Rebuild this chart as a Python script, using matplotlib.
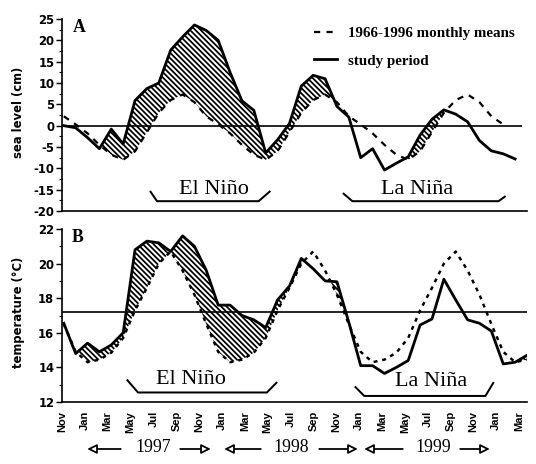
import numpy as np
import matplotlib
matplotlib.use("Agg")
import matplotlib.pyplot as plt
from matplotlib.lines import Line2D
from matplotlib.patches import FancyArrowPatch

plt.rcParams['axes.unicode_minus'] = False
plt.rcParams['hatch.linewidth'] = 1.6

# ---- data: monthly values, month 0 = Nov 1996 ----
month_labels = ["Nov", "Jan", "Mar", "May", "Jul", "Sep", "Nov", "Jan", "Mar", "May",
                "Jul", "Sep", "Nov", "Jan", "Mar", "May", "Jul", "Sep", "Nov", "Jan", "Mar"]
year_labels = ["1997", "1998", "1999"]

# sea level anomaly (cm), Nov 1996 - Jan 2000
sea_study = [0.0, -0.5, -2.8, -5.4, -0.8, -4.3, 5.9, 8.7, 10.0, 17.7,
             20.8, 23.6, 22.3, 20.0, 12.5, 5.8, 3.6, -6.4, -3.3, 0.5,
             9.3, 11.8, 11.0, 4.5, 2.0, -7.5, -5.4, -10.4, -8.8, -7.3,
             -2.2, 1.5, 3.7, 2.7, 0.9, -3.5, -5.9, -6.6, -7.8]
# 1966-1996 monthly means of sea level, Nov 1996 - Dec 1999
sea_mean = [2.2, 0.3, -1.8, -4.5, -6.8, -8.0, -6.0, -1.5, 3.0, 6.0, 7.3, 5.5,
            2.2, 0.3, -1.8, -4.5, -6.8, -8.0, -6.0, -1.5, 3.0, 6.0, 7.3, 5.5,
            2.2, 0.3, -1.8, -4.5, -6.8, -8.0, -6.0, -1.5, 3.0, 6.0, 7.3, 5.5,
            2.2, 0.3]

# sea surface temperature (deg C), Nov 1996 - Feb 2000
temp_study = [16.55, 14.8, 15.4, 14.9, 15.3, 16.0, 20.8, 21.3, 21.2, 20.7,
              21.6, 21.0, 19.6, 17.6, 17.6, 17.0, 16.75, 16.3, 17.9, 18.7,
              20.3, 19.7, 19.0, 18.95, 16.6, 14.1, 14.1, 13.65, 14.0, 14.4,
              16.45, 16.8, 19.1, 17.9, 16.75, 16.55, 16.1, 14.2, 14.3, 14.7]
temp_mean = [16.5, 14.9, 14.3, 14.45, 14.85, 15.7, 17.3, 18.6, 20.0, 20.7, 19.6, 18.2,
             16.5, 14.9, 14.3, 14.45, 14.85, 15.7, 17.3, 18.6, 20.0, 20.7, 19.6, 18.2,
             16.5, 14.9, 14.3, 14.45, 14.85, 15.7, 17.3, 18.6, 20.0, 20.7, 19.6, 18.2,
             16.5, 14.9, 14.3, 14.45]
temp_reference = 17.2

W, H = 536, 464
fig = plt.figure(figsize=(W / 80, H / 80), dpi=80)


def fx(px):
    return px / W


def fy(py):
    return 1 - py / H


XMIN, XMAX = -0.15, 39.0
SERIF = "Liberation Serif"
SANS = "DejaVu Sans"

ax1 = fig.add_axes([fx(62), fy(211), fx(527) - fx(62), fy(19) - fy(211)])
ax2 = fig.add_axes([fx(62), fy(402), fx(527) - fx(62), fy(229) - fy(402)])

lw_solid = 2.5
HATCH = "\\" * 5
for ax in (ax1, ax2):
    for s in ("top", "right"):
        ax.spines[s].set_visible(False)
    for s in ("left", "bottom"):
        ax.spines[s].set_linewidth(1.5)
    ax.set_xlim(XMIN, XMAX)
    ax.tick_params(axis="y", which="major", direction="out", length=5, width=1.3, pad=2)
    ax.tick_params(axis="y", which="minor", direction="out", length=3, width=1.0)

tick_pos = np.linspace(XMIN, XMIN + (XMAX - XMIN) * 457 / 465, len(month_labels))

# ---- panel A: sea level ----
xs = np.arange(len(sea_study))
xm = np.arange(len(sea_mean))
s_arr = np.array(sea_study)
m_arr = np.array(sea_mean)
n_common = min(len(s_arr), len(m_arr))
ax1.fill_between(xs[:n_common], s_arr[:n_common], m_arr[:n_common],
                 where=s_arr[:n_common] > m_arr[:n_common], interpolate=True,
                 facecolor="none", edgecolor="black", hatch=HATCH, linewidth=0)
ax1.plot(xm, sea_mean, color="black", lw=2.0, dashes=(2.8, 2.8))
ax1.plot(xs, sea_study, color="black", lw=lw_solid, solid_joinstyle="round")
ax1.hlines(0, XMIN, 38.6, color="black", lw=1.5)
ax1.set_ylim(-20, 25)
ax1.set_yticks(np.arange(-20, 26, 5))
ax1.set_yticks(np.arange(-20, 26, 2.5), minor=True)
ax1.set_xticks([])
ax1.set_ylabel("sea level (cm)", fontfamily=SANS, fontweight="bold", fontsize=10.5)
ax1.yaxis.set_label_coords(-0.08, 0.516)

# ---- panel B: temperature ----
xt = np.arange(len(temp_study))
t_arr = np.array(temp_study)
tm_arr = np.array(temp_mean)
ax2.fill_between(xt, t_arr, tm_arr, where=t_arr > tm_arr, interpolate=True,
                 facecolor="none", edgecolor="black", hatch=HATCH, linewidth=0)
ax2.plot(np.arange(len(temp_mean)), temp_mean, color="black", lw=2.2, dashes=(1.6, 2.0))
ax2.plot(xt, temp_study, color="black", lw=lw_solid, solid_joinstyle="round")
ax2.axhline(temp_reference, color="black", lw=1.5)
ax2.set_ylim(12, 22)
ax2.set_yticks(np.arange(12, 23, 2))
ax2.set_yticks(np.arange(12, 23, 1), minor=True)
ax2.set_xticks(tick_pos)
ax2.set_xticklabels(month_labels, rotation=90, fontfamily="Liberation Sans",
                    fontweight="bold", fontsize=10)
ax2.tick_params(axis="x", length=0, pad=8)
ax2.set_ylabel("temperature (°C)", fontfamily=SANS, fontweight="bold", fontsize=10.5)
ax2.yaxis.set_label_coords(-0.08, 0.52)

for ax in (ax1, ax2):
    for lab in ax.get_yticklabels():
        lab.set_fontfamily(SANS)
        lab.set_fontweight("bold")
        lab.set_fontsize(10.5)

# ---- panel letters ----
ax1.text(0.024, 1.0, "A", transform=ax1.transAxes, fontfamily=SERIF, fontweight="bold",
         fontsize=16, va="top", ha="left")
ax2.text(0.022, 1.0, "B", transform=ax2.transAxes, fontfamily=SERIF, fontweight="bold",
         fontsize=16, va="top", ha="left")

# ---- legend ----
handles = [Line2D([], [], color="black", lw=2.0, dashes=(2.8, 2.8)),
           Line2D([], [], color="black", lw=lw_solid)]
ax1.legend(handles, ["1966-1996 monthly means", "study period"], loc="upper left",
           bbox_to_anchor=(fx(314), fy(27)), bbox_transform=fig.transFigure, frameon=False,
           prop={"family": SERIF, "weight": "bold", "size": 13.5}, handlelength=1.5,
           handletextpad=0.75, labelspacing=0.9, borderpad=0, borderaxespad=0)


# ---- event brackets ----
def bracket(ax, xs_, ys_, label, xtext, ytext):
    ax.plot(xs_, ys_, color="black", lw=1.8, solid_capstyle="butt")
    ax.text(xtext, ytext, label, ha="center", va="bottom", fontfamily=SERIF, fontsize=20)


bracket(ax1, [7.26, 7.85, 16.4, 17.4], [-15.3, -17.7, -17.7, -15.3], "El Niño", 12.65, -17.3)
bracket(ax1, [23.5, 24.3, 36.6, 37.2], [-15.8, -17.7, -17.7, -16.5], "La Niña", 29.75, -17.3)
bracket(ax2, [5.3, 6.25, 17.1, 17.96], [13.3, 12.55, 12.55, 13.15], "El Niño", 10.7, 12.75)
bracket(ax2, [24.5, 25.3, 35.5, 36.2], [12.9, 12.35, 12.35, 13.15], "La Niña", 30.9, 12.65)

# ---- year row with arrows ----
year_centres = [153, 291, 433]
year_y = 448
arrow_spans = [((123, 85), (178, 213)), ((263, 222), (317, 360)), ((405, 362), (458, 492))]
for label, xc, (left, right) in zip(year_labels, year_centres, arrow_spans):
    fig.text(fx(xc), fy(year_y), label, ha="center", va="center", fontfamily=SERIF, fontsize=16)
    for a, b in (left, right):
        arr = FancyArrowPatch((fx(a), fy(year_y + 1)), (fx(b), fy(year_y + 1)),
                              transform=fig.transFigure,
                              arrowstyle="-|>,head_length=7,head_width=3.5",
                              mutation_scale=1, fc="white", ec="black", lw=1.6)
        fig.patches.append(arr)

fig.savefig("out.png", dpi=80)
